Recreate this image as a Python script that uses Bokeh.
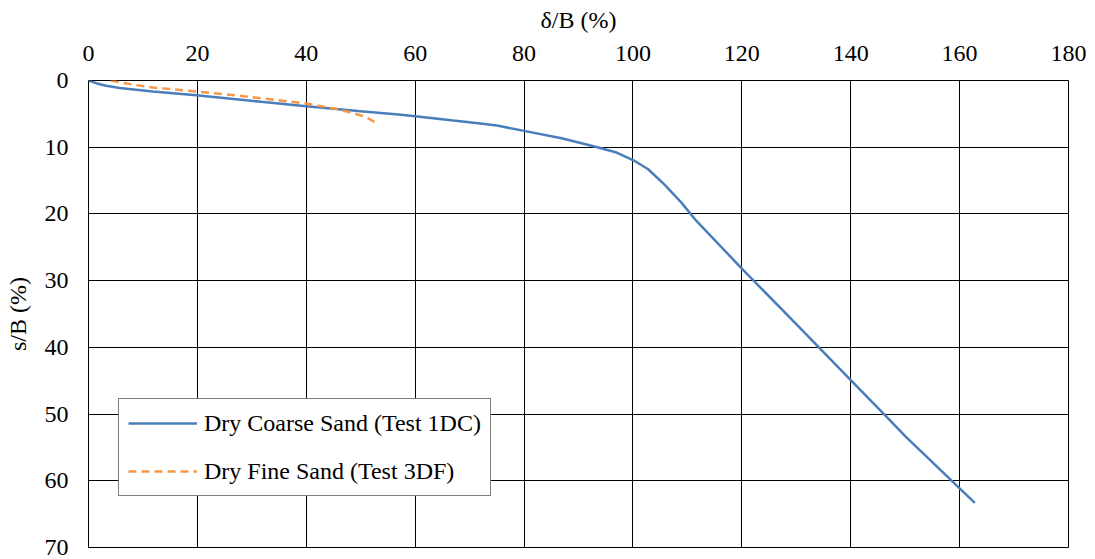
from bokeh.plotting import figure
from bokeh.models import Range1d, Legend, LegendItem, FixedTicker
from bokeh.embed import file_html
from bokeh.resources import INLINE

# Dry Coarse Sand (Test 1DC)
coarse_x = [0, 1.4, 3, 5.7, 11.8, 19.8, 31.7, 40, 50, 57.4, 60, 67, 72, 75, 80, 86.9,
            93.3, 97, 100.1, 102.8, 105.8, 108.9, 111.4, 120, 130, 140, 146.2, 150,
            160.1, 162.8]
coarse_y = [0, 0.4, 0.75, 1.14, 1.65, 2.2, 3.2, 3.85, 4.6, 5.15, 5.35, 6.0, 6.45, 6.75,
            7.55, 8.65, 9.96, 10.8, 11.96, 13.3, 15.6, 18.3, 20.8, 28.2, 36.5, 44.9, 50.1,
            53.3, 61.2, 63.3]

# Dry Fine Sand (Test 3DF)
fine_x = [4.1, 8, 11.8, 19.8, 25, 31.7, 40, 45.8, 48.9, 51, 52.5]
fine_y = [0, 0.6, 1.05, 1.65, 2.05, 2.65, 3.45, 4.3, 4.95, 5.5, 6.2]

x_ticks = [0, 20, 40, 60, 80, 100, 120, 140, 160, 180]
y_ticks = [0, 10, 20, 30, 40, 50, 60, 70]

FONT = "Liberation Serif"

p = figure(frame_width=980, frame_height=467, output_backend="svg", toolbar_location=None,
           x_axis_location="above", x_range=Range1d(0, 180), y_range=Range1d(70, 0),
           min_border_left=88, min_border_top=80, min_border_right=20, min_border_bottom=12)

p.xaxis.ticker = FixedTicker(ticks=x_ticks)
p.yaxis.ticker = FixedTicker(ticks=y_ticks)
p.xaxis.axis_label = "δ/B (%)"
p.yaxis.axis_label = "s/B (%)"

for ax in (p.xaxis[0], p.yaxis[0]):
    ax.major_tick_line_color = None
    ax.minor_tick_line_color = None
    ax.axis_line_color = None
    ax.major_tick_out = 0
    ax.major_tick_in = 0
    ax.major_label_text_font = FONT
    ax.major_label_text_font_size = "24px"
    ax.major_label_text_color = "black"
    ax.axis_label_text_font = FONT
    ax.axis_label_text_font_size = "24px"
    ax.axis_label_text_font_style = "normal"
    ax.axis_label_text_color = "black"

p.xaxis.major_label_standoff = 20
p.yaxis.major_label_standoff = 20
p.xaxis.axis_label_standoff = 10
p.yaxis.axis_label_standoff = 11

p.xgrid.ticker = FixedTicker(ticks=x_ticks)
p.ygrid.ticker = FixedTicker(ticks=y_ticks)
p.grid.grid_line_color = "black"
p.grid.grid_line_width = 1
p.grid.grid_line_alpha = 1
p.outline_line_color = "black"
p.outline_line_width = 1

r1 = p.line(coarse_x, coarse_y, line_color="#4A7EBB", line_width=2.5)
r2 = p.line(fine_x, fine_y, line_color="#F79646", line_width=2.5, line_dash="8 5")

legend = Legend(items=[LegendItem(label="Dry Coarse Sand (Test 1DC)", renderers=[r1]),
                       LegendItem(label="Dry Fine Sand (Test 3DF)", renderers=[r2])],
                location=(30, 51), orientation="vertical")
legend.label_text_font = FONT
legend.label_text_font_size = "24px"
legend.label_text_color = "black"
legend.glyph_width = 69
legend.glyph_height = 30
legend.label_height = 30
legend.label_standoff = 7
legend.spacing = 18
legend.padding = 9
legend.margin = 0
legend.border_line_color = "black"
legend.border_line_width = 1
legend.background_fill_alpha = 1
p.add_layout(legend)

open("out.html", "w").write(file_html(p, INLINE))
